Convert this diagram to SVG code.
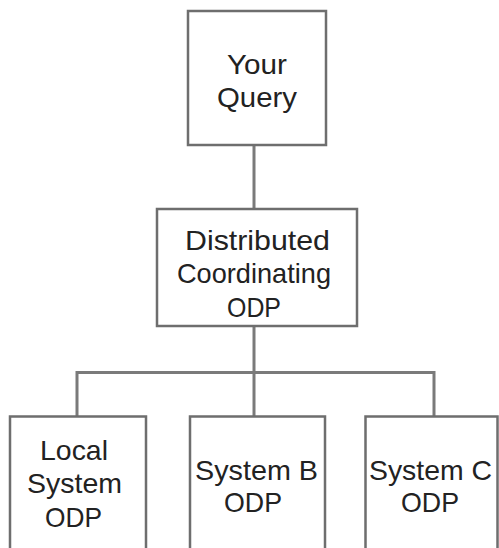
<svg xmlns="http://www.w3.org/2000/svg" width="499" height="548" viewBox="0 0 499 548">
<style>
.box{fill:#ffffff;stroke:#6e6e6e;stroke-width:2.5}
.conn{fill:none;stroke:#7a7a7a;stroke-width:3}
text{font-family:"Liberation Sans",Arial,sans-serif;font-size:28px;fill:#222;text-anchor:middle}
</style>
<rect width="499" height="548" fill="#ffffff"/>
<g id="connectors">
<line class="conn" x1="254" y1="145" x2="254" y2="209"/>
<line class="conn" x1="254" y1="326" x2="254" y2="417"/>
<polyline class="conn" points="77,417 77,372.5 434,372.5 434,417"/>
</g>
<g id="your-query">
<rect class="box" x="188" y="11" width="138" height="134"/>
<text x="257" y="74" textLength="60" lengthAdjust="spacingAndGlyphs">Your</text>
<text x="257" y="107" textLength="80" lengthAdjust="spacingAndGlyphs">Query</text>
</g>
<g id="distributed">
<rect class="box" x="157" y="209" width="200" height="117"/>
<text x="257.5" y="250" textLength="145" lengthAdjust="spacingAndGlyphs">Distributed</text>
<text x="254" y="283" textLength="154" lengthAdjust="spacingAndGlyphs">Coordinating</text>
<text x="254" y="317" textLength="54" lengthAdjust="spacingAndGlyphs">ODP</text>
</g>
<g id="local-system">
<rect class="box" x="10" y="416.5" width="136" height="150"/>
<text x="74" y="460" textLength="68" lengthAdjust="spacingAndGlyphs">Local</text>
<text x="74.5" y="493" textLength="95" lengthAdjust="spacingAndGlyphs">System</text>
<text x="73.5" y="527" textLength="57" lengthAdjust="spacingAndGlyphs">ODP</text>
</g>
<g id="system-b">
<rect class="box" x="190" y="416.5" width="135" height="150"/>
<text x="256.5" y="480" textLength="123" lengthAdjust="spacingAndGlyphs">System B</text>
<text x="253" y="512" textLength="58" lengthAdjust="spacingAndGlyphs">ODP</text>
</g>
<g id="system-c">
<rect class="box" x="365.5" y="416.5" width="132" height="150"/>
<text x="430.5" y="480" textLength="123" lengthAdjust="spacingAndGlyphs">System C</text>
<text x="430" y="512" textLength="58" lengthAdjust="spacingAndGlyphs">ODP</text>
</g>
</svg>
